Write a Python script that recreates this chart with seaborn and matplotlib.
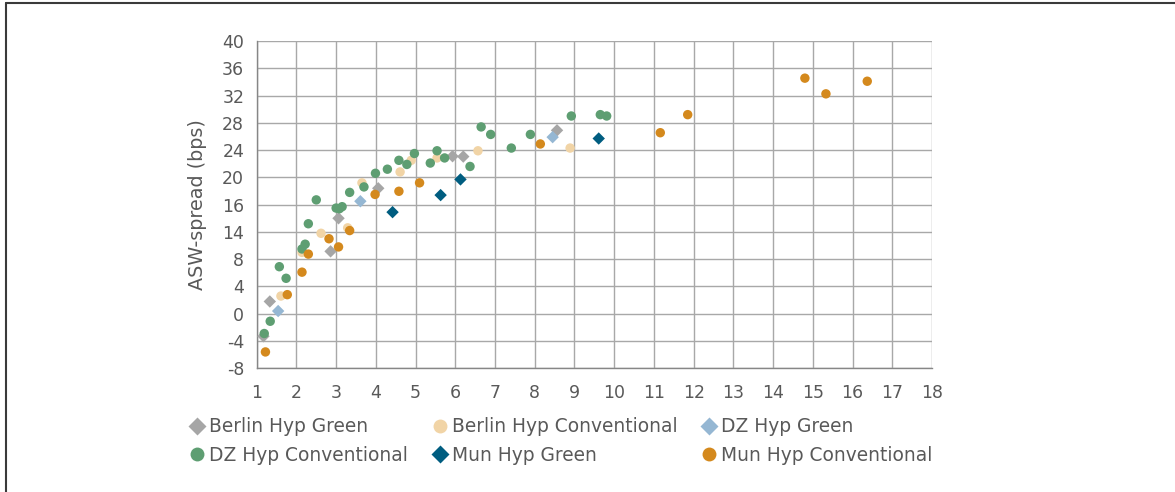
import matplotlib
matplotlib.use("Agg")
import matplotlib.pyplot as plt
from matplotlib.lines import Line2D
import seaborn as sns
import pandas as pd

# ---------------- data ----------------
series_names = ["Berlin Hyp Green", "Berlin Hyp Conventional", "DZ Hyp Green",
                "DZ Hyp Conventional", "Mun Hyp Green", "Mun Hyp Conventional"]

berlin_green_x = [1.17, 1.33, 2.86, 3.06, 4.06, 5.93, 6.20, 8.56]
berlin_green_y = [-3.3, 1.8, 9.15, 14.0, 18.4, 23.1, 23.05, 26.9]

berlin_conv_x = [1.61, 2.14, 2.62, 3.29, 3.65, 4.61, 4.89, 5.54, 6.57, 8.89]
berlin_conv_y = [2.6, 9.0, 11.8, 12.6, 19.2, 20.8, 22.5, 22.85, 23.9, 24.3]

dz_green_x = [1.54, 3.61, 8.45]
dz_green_y = [0.4, 16.5, 25.9]

dz_conv_x = [1.19, 1.34, 1.57, 1.74, 2.14, 2.22, 2.30, 2.50, 3.00, 3.08, 3.15,
             3.34, 3.70, 3.99, 4.29, 4.58, 4.78, 4.97, 5.37, 5.54, 5.73, 6.37,
             6.65, 6.89, 7.41, 7.89, 8.92, 9.65, 9.81]
dz_conv_y = [-2.9, -1.1, 6.9, 5.2, 9.5, 10.2, 13.2, 16.7, 15.5, 15.4, 15.7,
             17.8, 18.6, 20.6, 21.2, 22.5, 21.9, 23.5, 22.1, 23.9, 22.85, 21.6,
             27.4, 26.3, 24.3, 26.3, 29.0, 29.2, 29.0]

mun_green_x = [4.42, 5.63, 6.13, 9.61]
mun_green_y = [14.9, 17.4, 19.7, 25.7]

mun_conv_x = [1.22, 1.77, 2.14, 2.30, 2.82, 3.06, 3.34, 3.98, 4.58, 5.10, 8.14,
              11.16, 11.85, 14.80, 15.33, 16.37]
mun_conv_y = [-5.6, 2.8, 6.1, 8.75, 11.0, 9.8, 12.2, 17.5, 17.96, 19.2, 24.9,
              26.55, 29.2, 34.55, 32.25, 34.1]

x_ticks = list(range(1, 19))
y_ticks = list(range(-8, 41, 4))
y_tick_labels = ["-8", "-4", "0", "4", "8", "14", "16", "20", "24", "28", "32", "36", "40"]
y_label = "ASW-spread (bps)"

# ---------------- styling ----------------
colors = {
    "Berlin Hyp Green": "#a6a6a6",
    "Berlin Hyp Conventional": "#f1d4a6",
    "DZ Hyp Green": "#95b7d3",
    "DZ Hyp Conventional": "#5e9e72",
    "Mun Hyp Green": "#005d80",
    "Mun Hyp Conventional": "#d4891d",
}
markers = {
    "Berlin Hyp Green": "D",
    "Berlin Hyp Conventional": "o",
    "DZ Hyp Green": "D",
    "DZ Hyp Conventional": "o",
    "Mun Hyp Green": "D",
    "Mun Hyp Conventional": "o",
}
sizes = {n: (40 if markers[n] == "D" else 46) for n in series_names}

frames = []
for name, xs, ys in zip(series_names,
                        [berlin_green_x, berlin_conv_x, dz_green_x, dz_conv_x, mun_green_x, mun_conv_x],
                        [berlin_green_y, berlin_conv_y, dz_green_y, dz_conv_y, mun_green_y, mun_conv_y]):
    frames.append(pd.DataFrame({"x": xs, "y": ys, "series": name}))
df = pd.concat(frames, ignore_index=True)

sns.set_theme(style="white")
plt.rcParams["font.family"] = ["DejaVu Sans"]
text_color = "#595959"

fig = plt.figure(figsize=(11.75, 4.92), dpi=100)
ax = fig.add_axes([256.7 / 1175, 1 - 368.3 / 492, (932 - 256.7) / 1175, (368.3 - 41) / 492])

sns.scatterplot(data=df, x="x", y="y", hue="series", style="series",
                hue_order=series_names, style_order=series_names,
                palette=colors, markers=markers, size="series", sizes=sizes,
                size_order=series_names, linewidth=0, ax=ax, legend=True, zorder=3)

ax.get_legend().remove()

ax.set_xlim(1, 18)
ax.set_ylim(-8, 40)
ax.set_xticks(x_ticks)
ax.set_xticklabels([str(t) for t in x_ticks])
ax.set_yticks(y_ticks)
ax.set_yticklabels(y_tick_labels)
ax.set_xlabel("")
ax.set_ylabel(y_label, fontsize=13.8, color=text_color, labelpad=11)

ax.grid(True, color="#a8a8a8", linewidth=1.0, zorder=0)
ax.set_axisbelow(True)
for s in ["top", "right"]:
    ax.spines[s].set_visible(False)
for s in ["left", "bottom"]:
    ax.spines[s].set_color("#868686")
    ax.spines[s].set_linewidth(1.0)
ax.tick_params(axis="both", direction="out", length=4, width=1, color="#868686",
               labelsize=12.5, labelcolor=text_color, pad=5)
ax.tick_params(axis="x", pad=7)

# legend: row-major order -> reorder for column-major filling
order = [0, 3, 1, 4, 2, 5]
leg_handles = []
for i in order:
    n = series_names[i]
    leg_handles.append(Line2D([0], [0], marker=markers[n], color="none",
                              markerfacecolor=colors[n], markeredgecolor="none",
                              markersize=9.5 if markers[n] == "D" else 10))
leg_labels = [series_names[i] for i in order]
leg = fig.legend(leg_handles, leg_labels, ncol=3, loc="upper left",
                 bbox_to_anchor=(182 / 1175, 1 - 410 / 492), frameon=False,
                 fontsize=13.4, handlelength=0.8, handletextpad=0.25,
                 columnspacing=1.3, labelspacing=0.5, borderaxespad=0)
for t in leg.get_texts():
    t.set_color(text_color)

# outer frame (top and left edges)
fig.add_artist(Line2D([6 / 1175, 1], [1 - 2.5 / 492, 1 - 2.5 / 492],
                      transform=fig.transFigure, color="#3a3a3a", linewidth=1.5))
fig.add_artist(Line2D([6 / 1175, 6 / 1175], [0, 1 - 2.5 / 492],
                      transform=fig.transFigure, color="#3a3a3a", linewidth=1.5))

fig.savefig("out.png", dpi=100, facecolor="white")
